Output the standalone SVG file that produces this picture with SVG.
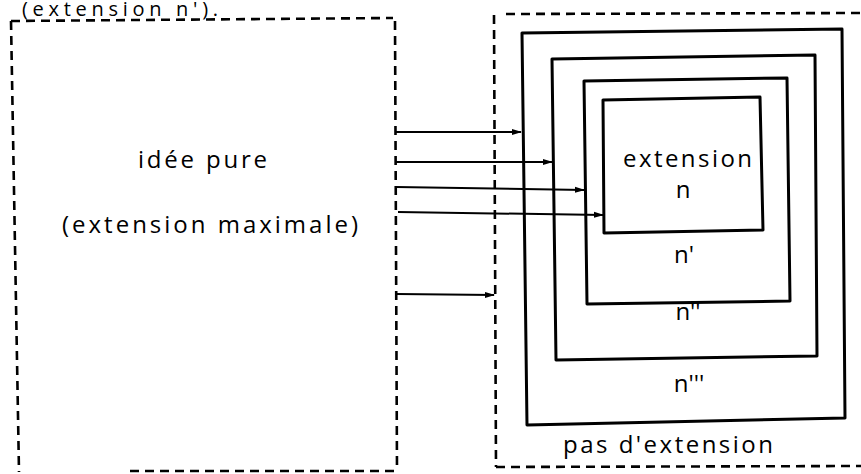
<svg xmlns="http://www.w3.org/2000/svg" width="861" height="474" viewBox="0 0 861 474">
<style>
.dash{fill:none;stroke:#000;stroke-width:2.6;stroke-dasharray:9 6;}
.box{fill:none;stroke:#000;stroke-width:3;stroke-linejoin:round;}
.arr{fill:none;stroke:#000;stroke-width:2;marker-end:url(#ah);}
text{font-family:"Open Sans","DejaVu Sans",sans-serif;font-size:24px;fill:#000;}
</style>
<defs>
<marker id="ah" viewBox="0 0 10 8" refX="9" refY="4" markerWidth="5" markerHeight="4" orient="auto">
<path d="M0,1 L10,4 L0,7 z" fill="#000"/>
</marker>
</defs>
<rect width="861" height="474" fill="#fff"/>
<text id="caption" x="22" y="16" textLength="196" lengthAdjust="spacing" style="font-size:20px">(extension n').</text>
<g id="ideepure">
<path class="dash" d="M11,21 L393,18 M395,21 L397,471 M11,21 L19,472 M130,471 L395,471"/>
<text x="138" y="168" textLength="129" lengthAdjust="spacing">idée pure</text>
<text x="62" y="233" textLength="296" lengthAdjust="spacing">(extension maximale)</text>
</g>
<g id="pasdextension">
<path class="dash" d="M494,15 L496,467 M506,14 L861,13 M496,467 L861,466"/>
<text x="563" y="453" textLength="210" lengthAdjust="spacing">pas d'extension</text>
</g>
<g id="ext-n3">
<path class="box" d="M522,33 L842,29 L845,418 L527,425 Z"/>
<text x="689" y="392" text-anchor="middle">n'''</text>
</g>
<g id="ext-n2">
<path class="box" d="M552,59 L815,55 L817,356 L556,360 Z"/>
<text x="688" y="320" text-anchor="middle">n''</text>
</g>
<g id="ext-n1">
<path class="box" d="M584,81 L787,78 L790,301 L587,304 Z"/>
<text x="684" y="263" text-anchor="middle">n'</text>
</g>
<g id="ext-n">
<path class="box" d="M603,100 L760,97 L763,230 L604,233 Z"/>
<text x="623" y="167" textLength="129" lengthAdjust="spacing">extension</text>
<text x="683" y="198" text-anchor="middle">n</text>
</g>
<g id="connectors">
<path class="arr" d="M396,132 L521,132"/>
<path class="arr" d="M396,162 L552,162"/>
<path class="arr" d="M396,187 L584,190"/>
<path class="arr" d="M398,212 L603,215"/>
<path class="arr" d="M397,294 L494,295"/>
</g>
</svg>
